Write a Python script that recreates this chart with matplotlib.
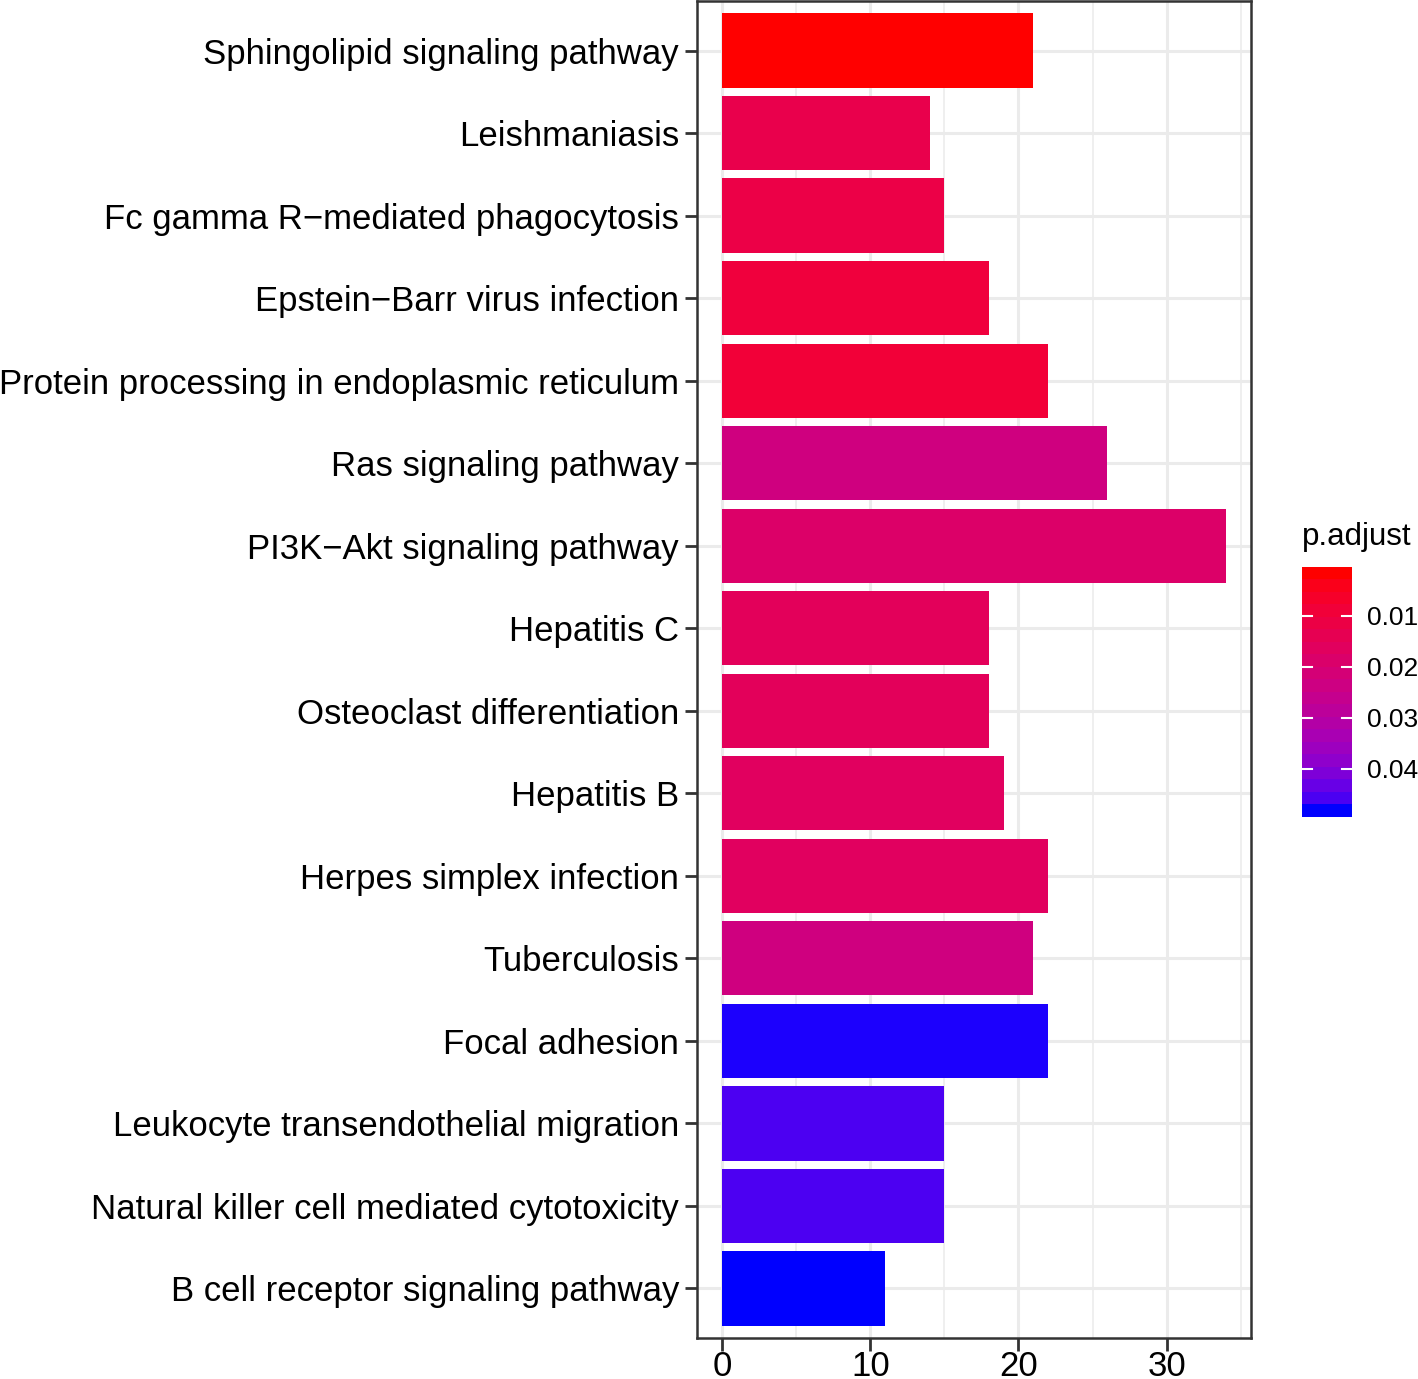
"""KEGG enrichment bar chart (count coloured by p.adjust)."""

import numpy as np
import matplotlib

matplotlib.use("Agg")
import matplotlib.pyplot as plt
from matplotlib.colors import ListedColormap, Normalize

plt.rcParams["font.family"] = ["Liberation Sans", "DejaVu Sans"]

pathways = [
    "Sphingolipid signaling pathway",
    "Leishmaniasis",
    "Fc gamma R\u2212mediated phagocytosis",
    "Epstein\u2212Barr virus infection",
    "Protein processing in endoplasmic reticulum",
    "Ras signaling pathway",
    "PI3K\u2212Akt signaling pathway",
    "Hepatitis C",
    "Osteoclast differentiation",
    "Hepatitis B",
    "Herpes simplex infection",
    "Tuberculosis",
    "Focal adhesion",
    "Leukocyte transendothelial migration",
    "Natural killer cell mediated cytotoxicity",
    "B cell receptor signaling pathway",
]
counts = [21, 14, 15, 18, 22, 26, 34, 18, 18, 19, 22, 21, 22, 15, 15, 11]
padj = [0.0005, 0.012, 0.011, 0.009, 0.008, 0.023, 0.018, 0.015,
        0.015, 0.016, 0.016, 0.023, 0.0489, 0.0468, 0.0468, 0.0494]
cbar_ticks = [0.01, 0.02, 0.03, 0.04]
x_ticks = [0, 10, 20, 30]


# --- red -> blue gradient interpolated in Lab, like ggplot's scale ---
def srgb_to_lab(rgb):
    c = np.asarray(rgb, dtype=float)
    lin = np.where(c <= 0.04045, c / 12.92, ((c + 0.055) / 1.055) ** 2.4)
    m = np.array([[0.4124, 0.3576, 0.1805],
                  [0.2126, 0.7152, 0.0722],
                  [0.0193, 0.1192, 0.9505]])
    xyz = m @ lin / np.array([0.95047, 1.0, 1.08883])
    f = np.where(xyz > 0.008856, np.cbrt(xyz), 7.787 * xyz + 16 / 116)
    return np.array([116 * f[1] - 16, 500 * (f[0] - f[1]), 200 * (f[1] - f[2])])


def lab_to_srgb(lab):
    L, a, b = lab
    fy = (L + 16) / 116
    f = np.array([fy + a / 500, fy, fy - b / 200])
    xyz = np.where(f ** 3 > 0.008856, f ** 3, (f - 16 / 116) / 7.787)
    xyz = xyz * np.array([0.95047, 1.0, 1.08883])
    minv = np.array([[3.2406, -1.5372, -0.4986],
                     [-0.9689, 1.8758, 0.0415],
                     [0.0557, -0.2040, 1.0570]])
    lin = np.clip(minv @ xyz, 0, 1)
    c = np.where(lin <= 0.0031308, 12.92 * lin, 1.055 * lin ** (1 / 2.4) - 0.055)
    return np.clip(c, 0, 1)


lab_lo = srgb_to_lab([1, 0, 0])
lab_hi = srgb_to_lab([0, 0, 1])
cmap = ListedColormap(
    [lab_to_srgb(lab_lo + t * (lab_hi - lab_lo)) for t in np.linspace(0, 1, 256)]
)
norm = Normalize(vmin=min(padj), vmax=max(padj))

fig = plt.figure(figsize=(14.18, 13.79), dpi=100)
ax = fig.add_axes([697 / 1418, 1 - 1338 / 1379, (1251 - 697) / 1418, 1337 / 1379])

n = len(pathways)
ypos = np.arange(n)[::-1] + 1
ax.barh(ypos, counts, height=0.9, color=cmap(norm(padj)), zorder=3)

xmax = max(counts)
ax.set_xlim(-0.05 * xmax, 1.05 * xmax)
ax.set_ylim(0.4, n + 0.6)
ax.set_yticks(ypos)
ax.set_yticklabels(pathways, fontsize=25)
ax.set_xticks(x_ticks)
ax.set_xticklabels([str(v) for v in x_ticks], fontsize=25)
ax.set_xticks([5, 15, 25, 35], minor=True)
ax.tick_params(axis="both", which="major", length=9, width=2, color="#333333",
               pad=4, labelcolor="black")
ax.tick_params(axis="x", which="major", pad=0)
ax.tick_params(axis="x", which="minor", length=0)
ax.grid(True, which="major", color="#EBEBEB", linewidth=2.2, zorder=0)
ax.grid(True, which="minor", axis="x", color="#EBEBEB", linewidth=1.1, zorder=0)
for s in ax.spines.values():
    s.set_color("#333333")
    s.set_linewidth(1.8)

# colour bar legend
cax = fig.add_axes([1302 / 1418, 1 - 817 / 1379, 50 / 1418, 250 / 1379])
bins = np.linspace(norm.vmin, norm.vmax, 20)
cax.imshow(bins[:, None], aspect="auto", cmap=cmap, norm=norm, origin="lower",
           extent=[0, 1, norm.vmin, norm.vmax], interpolation="nearest")
cax.set_xlim(0, 1)
cax.set_ylim(norm.vmax, norm.vmin)
for t in cbar_ticks:
    cax.plot([0, 0.2], [t, t], color="white", lw=1.5)
    cax.plot([0.8, 1], [t, t], color="white", lw=1.5)
cax.set_xticks([])
cax.set_yticks(cbar_ticks)
cax.set_yticklabels([f"{t:.2f}" for t in cbar_ticks], fontsize=19)
cax.yaxis.tick_right()
cax.tick_params(axis="y", length=0, pad=11)
for s in cax.spines.values():
    s.set_visible(False)
fig.text(1302 / 1418, 1 - 537 / 1379, "p.adjust", fontsize=22.5, va="center", ha="left")

fig.savefig("out.png", dpi=100)
